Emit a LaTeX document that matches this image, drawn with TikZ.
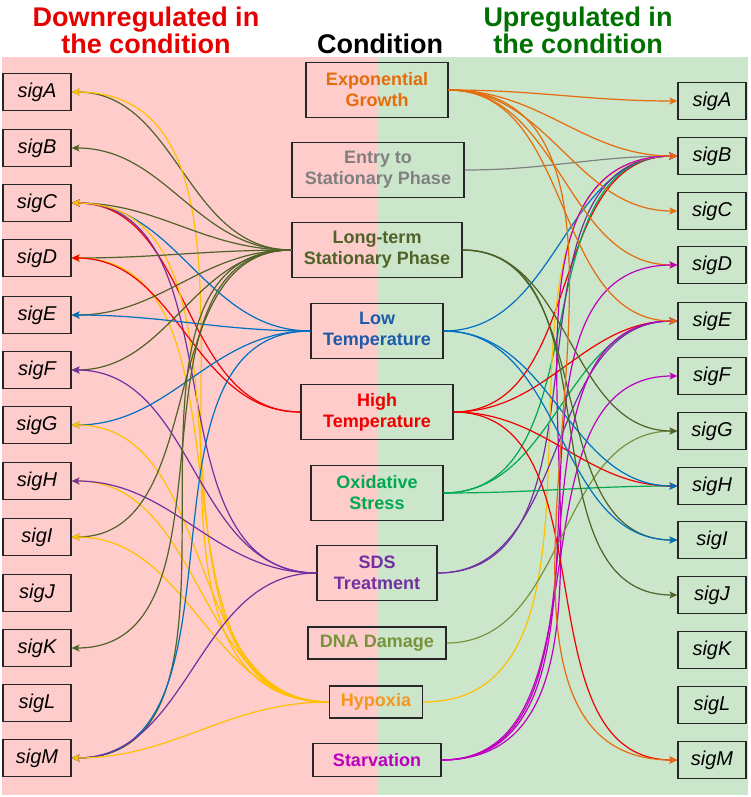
\documentclass[tikz,border=0pt]{standalone}
\usepackage{fontspec}
\setmainfont{Liberation Sans}
\usetikzlibrary{arrows.meta}

\definecolor{downred}{RGB}{230,0,0}
\definecolor{upgreen}{RGB}{0,112,0}
\definecolor{pinkbg}{RGB}{255,204,204}
\definecolor{greenbg}{RGB}{204,230,204}
\definecolor{expocol}{RGB}{228,108,10}
\definecolor{entrycol}{RGB}{128,128,128}
\definecolor{ltcol}{RGB}{79,98,40}
\definecolor{lowcol}{RGB}{0,112,192}
\definecolor{lowtext}{RGB}{30,90,170}
\definecolor{highcol}{RGB}{240,0,0}
\definecolor{oxcol}{RGB}{0,168,80}
\definecolor{sdscol}{RGB}{112,48,160}
\definecolor{dnacol}{RGB}{119,147,60}
\definecolor{hypcol}{RGB}{255,192,0}
\definecolor{hyptext}{RGB}{247,150,30}
\definecolor{starvcol}{RGB}{190,0,190}

\newcommand\titlefont{\fontsize{27}{27}\selectfont\bfseries}
\newcommand\condfont{\fontsize{18}{21}\selectfont\bfseries}
\newcommand\sigfont{\fontsize{20}{24}\selectfont\itshape}

\tikzset{
  title/.style={font=\titlefont, align=center, inner sep=0pt},
  condbox/.style={draw=black!85, line width=1.2pt, font=\condfont,
    align=center, inner sep=0pt, minimum height=55pt},
  sigbox/.style={draw=black!85, line width=1.2pt, font=\sigfont,
    inner sep=0pt, minimum width=68pt, minimum height=37pt},
  link/.style={line width=1.2pt, -{Stealth[length=8pt,width=7pt,inset=2pt]}},
}

\begin{document}
\begin{tikzpicture}[x=1pt,y=-1pt]
\useasboundingbox (0,0) rectangle (750,797);

%Background
\fill[pinkbg] (2,57) rectangle (378,795);
\fill[greenbg] (378,57) rectangle (748,795);

%Titles
\node [title, text=downred] (downtitle) at (146,30) {Downregulated in\\the condition};
\node [title] (condtitle) at (380,44) {Condition};
\node [title, text=upgreen] (uptitle) at (578,30) {Upregulated in\\the condition};

%Conditions
\node [condbox, text=expocol, minimum width=142pt] (expo) at (377,90) {Exponential\\Growth};
\node [condbox, text=entrycol, minimum width=172pt] (entry) at (378,170) {Entry to\\Stationary Phase};
\node [condbox, text=ltcol, minimum width=170pt] (longterm) at (377,250) {Long-term\\Stationary Phase};
\node [condbox, text=lowtext, minimum width=132pt] (lowtemp) at (377,331) {Low\\Temperature};
\node [condbox, text=highcol, minimum width=152pt] (hightemp) at (377,412) {High\\Temperature};
\node [condbox, text=oxcol, minimum width=132pt] (oxid) at (377,493) {Oxidative\\Stress};
\node [condbox, text=sdscol, minimum width=120pt] (sds) at (377,573) {SDS\\Treatment};
\node [condbox, text=dnacol, minimum width=138pt, minimum height=32pt] (dna) at (377,643) {DNA Damage};
\node [condbox, text=hyptext, minimum width=93pt, minimum height=32pt] (hypoxia) at (376,702) {Hypoxia};
\node [condbox, text=starvcol, minimum width=128pt, minimum height=33pt] (starv) at (377,760) {Starvation};

%Sigma factors, down (left) and up (right)
\foreach \s/\yl/\yr in {A/92/101, B/148/156, C/203/211, D/258/265, E/315/321,
    F/370/376, G/425/431, H/481/486, I/537/540, J/593/595, K/648/650,
    L/703/705, M/758/760} {
  \node [sigbox] (down\s) at (37,\yl) {sig\s};
  \node [sigbox] (up\s) at (712,\yr) {sig\s};
}

%Downregulated links
\foreach \c/\s/\col in {longterm/A/ltcol, hypoxia/A/hypcol,
    longterm/B/ltcol,
    longterm/C/ltcol, lowtemp/C/lowcol, hightemp/C/highcol, sds/C/sdscol, hypoxia/C/hypcol,
    longterm/D/ltcol, hypoxia/D/hypcol, hightemp/D/highcol,
    longterm/E/ltcol, lowtemp/E/lowcol,
    longterm/F/ltcol, sds/F/sdscol,
    lowtemp/G/lowcol, hypoxia/G/hypcol,
    hypoxia/H/hypcol, sds/H/sdscol,
    longterm/I/ltcol, hypoxia/I/hypcol,
    longterm/K/ltcol,
    longterm/M/ltcol, lowtemp/M/lowcol, sds/M/sdscol, hypoxia/M/hypcol}
  \draw [link, color=\col] (\c.west) to[out=180, in=0] (down\s.east);

%Upregulated links
\foreach \c/\s/\col in {expo/A/expocol,
    entry/B/entrycol, lowtemp/B/lowcol, hightemp/B/highcol, oxid/B/oxcol,
    sds/B/sdscol, hypoxia/B/hypcol, starv/B/starvcol, expo/B/expocol,
    expo/C/expocol,
    expo/D/expocol, starv/D/starvcol,
    hightemp/E/highcol, oxid/E/oxcol, sds/E/sdscol, starv/E/starvcol, expo/E/expocol,
    starv/F/starvcol,
    dna/G/dnacol, longterm/G/ltcol,
    oxid/H/oxcol, hightemp/H/highcol, lowtemp/H/lowcol,
    longterm/I/ltcol, lowtemp/I/lowcol,
    longterm/J/ltcol,
    hightemp/M/highcol, expo/M/expocol}
  \draw [link, color=\col] (\c.east) to[out=0, in=180] (up\s.west);

\end{tikzpicture}
\end{document}
